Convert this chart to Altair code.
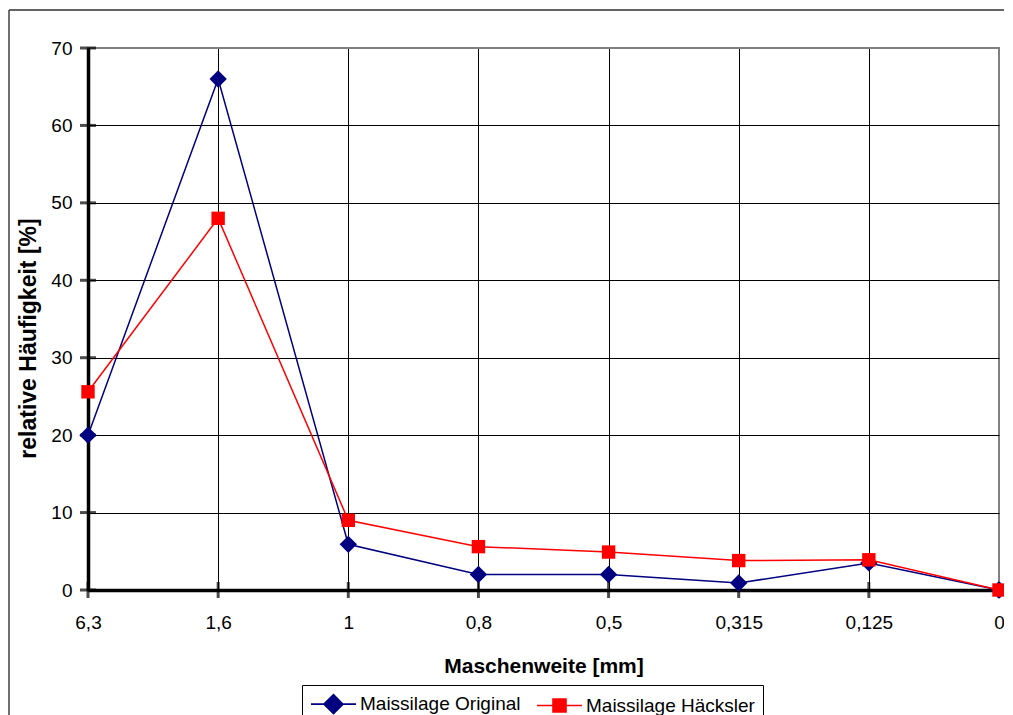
import altair as alt
import pandas as pd

# ---- data ----
cats = ["6,3", "1,6", "1", "0,8", "0,5", "0,315", "0,125", "0"]
series_names = ["Maissilage Original", "Maissilage Häcksler"]
orig = [20, 66, 5.9, 2, 2, 0.9, 3.5, 0]
haeck = [25.6, 48, 9, 5.6, 4.9, 3.8, 3.9, 0]
y_ticks = [0, 10, 20, 30, 40, 50, 60, 70]
colors = ["#000080", "#FF0000"]

rows = []
for name, vals in zip(series_names, [orig, haeck]):
    for c, v in zip(cats, vals):
        rows.append({"cat": c, "series": name, "v": v})
df = pd.DataFrame(rows)
df_yt = pd.DataFrame({"v": y_ticks})
df_xt = pd.DataFrame({"cat": cats})

FONT = "Liberation Sans"

xscale = alt.Scale(type="point", padding=0)
yscale = alt.Scale(domain=[0, 70], nice=False)

X = alt.X(
    "cat:N", sort=cats, scale=xscale, title="Maschenweite [mm]",
    axis=alt.Axis(
        labelAngle=0, labelFont=FONT, labelFontSize=19, labelColor="black",
        labelPadding=23, ticks=False, tickSize=0,
        domainColor="black", domainWidth=3.5,
        grid=True, gridWidth=1,
        gridColor={"condition": {"test": "datum.value === '0'", "value": "#808080"}, "value": "#000000"},
        titleFont=FONT, titleFontSize=21, titleFontWeight="bold", titleColor="black",
        titlePadding=23,
    ),
)
Y = alt.Y(
    "v:Q", scale=yscale, title="relative Häufigkeit [%]",
    axis=alt.Axis(
        values=y_ticks, format="d", labelFont=FONT, labelFontSize=19, labelColor="black",
        labelPadding=16, ticks=False, tickSize=0,
        domainColor="black", domainWidth=3.5,
        grid=True, gridWidth=1,
        gridColor={"condition": {"test": "datum.value === 70", "value": "#808080"}, "value": "#000000"},
        titleFont=FONT, titleFontSize=23, titleFontWeight="bold", titleColor="black",
        titlePadding=10, titleY=290,
    ),
)

one = alt.Data(values=[{"a": 1}])
frame_top = alt.Chart(one).mark_rule(color="#303030", strokeWidth=1.5).encode(
    x=alt.value(-79), x2=alt.value(940), y=alt.value(-38))
frame_left = alt.Chart(one).mark_rule(color="#404040", strokeWidth=1.5).encode(
    x=alt.value(-79), y=alt.value(-38), y2=alt.value(720))

yticks = alt.Chart(df_yt).mark_tick(orient="horizontal", size=16, thickness=3, color="black").encode(
    y=Y, x=alt.value(0))
xticks = alt.Chart(df_xt).mark_tick(orient="vertical", size=16, thickness=3, color="black").encode(
    x=X, y=alt.value(542))

layers = [frame_top, frame_left, yticks, xticks]
shapes = ["diamond", "square"]
sizes = [300, 180]
for name, col, shp, sz in zip(series_names, colors, shapes, sizes):
    sub = alt.Chart(df).transform_filter(alt.datum.series == name)
    layers.append(sub.mark_line(color=col, strokeWidth=1.5).encode(x=X, y=Y))
    layers.append(sub.mark_point(filled=True, color=col, shape=shp, size=sz, opacity=1).encode(x=X, y=Y))

# legend (line + marker symbols)
legend_paths = [
    "M-1,0L3.5,0M0.3,0L1.25,-0.95L2.2,0L1.25,0.95Z",
    "M-1,0L3.5,0M0.6,-0.65L1.9,-0.65L1.9,0.65L0.6,0.65Z",
]
leg = alt.Legend(
    orient="none", legendX=214, legendY=637, direction="horizontal", columns=2,
    strokeColor="black", fillColor="white", padding=8, cornerRadius=0,
    labelFont=FONT, labelFontSize=19, labelColor="black", labelOffset=28, labelLimit=0,
    symbolSize=400, symbolStrokeWidth=1.6, columnPadding=12, symbolOpacity=1,
)
legend_layer = alt.Chart(df).transform_filter("datum.v < -1000").mark_point(size=400, opacity=1).encode(
    fill=alt.Fill("series:N", scale=alt.Scale(domain=series_names, range=colors), legend=leg, title=None),
    stroke=alt.Stroke("series:N", scale=alt.Scale(domain=series_names, range=colors), legend=leg, title=None),
    shape=alt.Shape("series:N", scale=alt.Scale(domain=series_names, range=legend_paths), legend=leg, title=None),
)
layers.append(legend_layer)

chart = alt.layer(*layers).properties(
    width=911, height=542,
    autosize=alt.AutoSizeParams(type="none"),
    padding={"left": 80, "top": 40, "right": 5, "bottom": 130},
    background="white",
).configure_view(stroke="#808080", strokeWidth=2)

chart.save("out.html", embed_options={"renderer": "svg", "actions": False})
